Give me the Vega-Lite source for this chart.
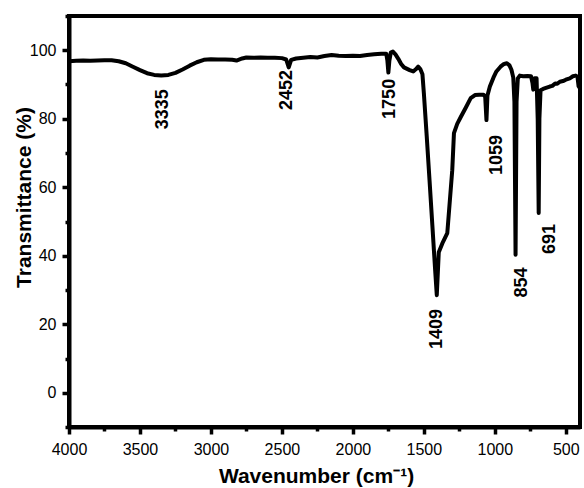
{
  "$schema": "https://vega.github.io/schema/vega-lite/v6.json",
  "width": 511,
  "height": 411,
  "autosize": {"type": "none"},
  "padding": {"left": 69, "top": 16, "right": 4, "bottom": 61},
  "background": "white",
  "config": {
    "font": "Liberation Sans",
    "view": {"stroke": "black", "strokeWidth": 4},
    "axis": {
      "grid": false,
      "domainColor": "black",
      "domainWidth": 4,
      "tickColor": "black",
      "tickWidth": 3.5,
      "labelColor": "black",
      "labelFont": "Liberation Sans",
      "labelFontSize": 16,
      "titleColor": "black",
      "titleFont": "Liberation Sans",
      "titleFontSize": 21,
      "titleFontWeight": "bold"
    }
  },
  "datasets": {
    "spectrum": [
      {"wavenumber": 4000, "transmittance": 96.8},
      {"wavenumber": 3950, "transmittance": 96.9},
      {"wavenumber": 3900, "transmittance": 97.0},
      {"wavenumber": 3850, "transmittance": 96.9},
      {"wavenumber": 3800, "transmittance": 97.0},
      {"wavenumber": 3750, "transmittance": 97.1},
      {"wavenumber": 3700, "transmittance": 97.1},
      {"wavenumber": 3650, "transmittance": 96.8},
      {"wavenumber": 3600, "transmittance": 96.2},
      {"wavenumber": 3550, "transmittance": 95.2},
      {"wavenumber": 3500, "transmittance": 94.2},
      {"wavenumber": 3450, "transmittance": 93.3},
      {"wavenumber": 3400, "transmittance": 92.8},
      {"wavenumber": 3350, "transmittance": 92.6},
      {"wavenumber": 3300, "transmittance": 92.8},
      {"wavenumber": 3250, "transmittance": 93.4},
      {"wavenumber": 3200, "transmittance": 94.4},
      {"wavenumber": 3150, "transmittance": 95.5},
      {"wavenumber": 3100, "transmittance": 96.5},
      {"wavenumber": 3050, "transmittance": 97.2},
      {"wavenumber": 3000, "transmittance": 97.4},
      {"wavenumber": 2950, "transmittance": 97.3},
      {"wavenumber": 2900, "transmittance": 97.3},
      {"wavenumber": 2850, "transmittance": 97.2},
      {"wavenumber": 2820, "transmittance": 97.0},
      {"wavenumber": 2780, "transmittance": 97.6},
      {"wavenumber": 2750, "transmittance": 97.9},
      {"wavenumber": 2700, "transmittance": 97.8},
      {"wavenumber": 2650, "transmittance": 97.9},
      {"wavenumber": 2600, "transmittance": 97.8},
      {"wavenumber": 2550, "transmittance": 97.8},
      {"wavenumber": 2500, "transmittance": 97.7},
      {"wavenumber": 2470, "transmittance": 97.3},
      {"wavenumber": 2452, "transmittance": 95.0},
      {"wavenumber": 2435, "transmittance": 97.2},
      {"wavenumber": 2400, "transmittance": 97.6},
      {"wavenumber": 2350, "transmittance": 97.8},
      {"wavenumber": 2300, "transmittance": 98.0},
      {"wavenumber": 2250, "transmittance": 97.9},
      {"wavenumber": 2200, "transmittance": 98.3},
      {"wavenumber": 2150, "transmittance": 98.6},
      {"wavenumber": 2100, "transmittance": 98.4},
      {"wavenumber": 2050, "transmittance": 98.3},
      {"wavenumber": 2000, "transmittance": 98.4},
      {"wavenumber": 1950, "transmittance": 98.3},
      {"wavenumber": 1900, "transmittance": 98.6},
      {"wavenumber": 1850, "transmittance": 98.8},
      {"wavenumber": 1800, "transmittance": 99.0},
      {"wavenumber": 1765, "transmittance": 99.0},
      {"wavenumber": 1757, "transmittance": 97.0},
      {"wavenumber": 1750, "transmittance": 93.5},
      {"wavenumber": 1743, "transmittance": 97.0},
      {"wavenumber": 1733, "transmittance": 99.3},
      {"wavenumber": 1718, "transmittance": 99.6},
      {"wavenumber": 1700, "transmittance": 98.8},
      {"wavenumber": 1680, "transmittance": 97.5},
      {"wavenumber": 1660, "transmittance": 96.0},
      {"wavenumber": 1640, "transmittance": 95.0},
      {"wavenumber": 1600, "transmittance": 94.2},
      {"wavenumber": 1575, "transmittance": 93.8},
      {"wavenumber": 1555, "transmittance": 94.5},
      {"wavenumber": 1540, "transmittance": 95.2},
      {"wavenumber": 1525, "transmittance": 94.5},
      {"wavenumber": 1510, "transmittance": 93.0},
      {"wavenumber": 1500, "transmittance": 87.5},
      {"wavenumber": 1480, "transmittance": 75.0},
      {"wavenumber": 1460, "transmittance": 62.0},
      {"wavenumber": 1440, "transmittance": 48.8},
      {"wavenumber": 1420, "transmittance": 35.5},
      {"wavenumber": 1409, "transmittance": 28.5},
      {"wavenumber": 1395, "transmittance": 41.0},
      {"wavenumber": 1370, "transmittance": 43.6},
      {"wavenumber": 1335, "transmittance": 46.6},
      {"wavenumber": 1300, "transmittance": 65.0},
      {"wavenumber": 1288, "transmittance": 75.8},
      {"wavenumber": 1265, "transmittance": 78.5},
      {"wavenumber": 1240, "transmittance": 80.5},
      {"wavenumber": 1205, "transmittance": 83.2},
      {"wavenumber": 1170, "transmittance": 86.0},
      {"wavenumber": 1140, "transmittance": 86.9},
      {"wavenumber": 1110, "transmittance": 87.0},
      {"wavenumber": 1080, "transmittance": 87.0},
      {"wavenumber": 1068, "transmittance": 86.5},
      {"wavenumber": 1059, "transmittance": 79.6},
      {"wavenumber": 1052, "transmittance": 86.8},
      {"wavenumber": 1035, "transmittance": 89.4},
      {"wavenumber": 1010, "transmittance": 92.0},
      {"wavenumber": 989, "transmittance": 93.8},
      {"wavenumber": 960, "transmittance": 95.2},
      {"wavenumber": 935, "transmittance": 96.0},
      {"wavenumber": 915, "transmittance": 96.2},
      {"wavenumber": 897, "transmittance": 95.6},
      {"wavenumber": 883, "transmittance": 94.3},
      {"wavenumber": 870, "transmittance": 92.0},
      {"wavenumber": 862, "transmittance": 85.0},
      {"wavenumber": 854, "transmittance": 40.3},
      {"wavenumber": 847, "transmittance": 85.0},
      {"wavenumber": 838, "transmittance": 91.8},
      {"wavenumber": 824, "transmittance": 92.6},
      {"wavenumber": 800, "transmittance": 92.4},
      {"wavenumber": 770, "transmittance": 92.5},
      {"wavenumber": 745, "transmittance": 92.4},
      {"wavenumber": 735, "transmittance": 90.5},
      {"wavenumber": 729, "transmittance": 88.5},
      {"wavenumber": 720, "transmittance": 91.8},
      {"wavenumber": 706, "transmittance": 91.8},
      {"wavenumber": 698, "transmittance": 80.0},
      {"wavenumber": 691, "transmittance": 52.5},
      {"wavenumber": 686, "transmittance": 80.0},
      {"wavenumber": 678, "transmittance": 88.3},
      {"wavenumber": 660, "transmittance": 88.7},
      {"wavenumber": 640, "transmittance": 89.0},
      {"wavenumber": 613, "transmittance": 89.4},
      {"wavenumber": 595, "transmittance": 89.6},
      {"wavenumber": 575, "transmittance": 90.3},
      {"wavenumber": 560, "transmittance": 90.2},
      {"wavenumber": 542, "transmittance": 90.8},
      {"wavenumber": 520, "transmittance": 91.0},
      {"wavenumber": 500, "transmittance": 91.4},
      {"wavenumber": 472, "transmittance": 91.8},
      {"wavenumber": 450, "transmittance": 92.4},
      {"wavenumber": 430, "transmittance": 92.6},
      {"wavenumber": 418, "transmittance": 92.3},
      {"wavenumber": 410, "transmittance": 89.5},
      {"wavenumber": 402, "transmittance": 89.0}
    ],
    "peaks": [
      {"label": "3335", "wn": 3338, "t": 82.8},
      {"label": "2452", "wn": 2465, "t": 88.4},
      {"label": "1750", "wn": 1739, "t": 85.8},
      {"label": "1409", "wn": 1408, "t": 18.6},
      {"label": "1059", "wn": 982, "t": 69.4},
      {"label": "854", "wn": 810, "t": 32.2},
      {"label": "691", "wn": 613, "t": 44.9}
    ]
  },
  "layer": [
    {
      "data": {"name": "spectrum"},
      "mark": {"type": "line", "color": "black", "strokeWidth": 4, "strokeJoin": "round", "strokeCap": "round", "clip": true},
      "encoding": {
        "x": {
          "field": "wavenumber",
          "type": "quantitative",
          "scale": {"domain": [4000, 400], "nice": false, "zero": false},
          "axis": {
            "title": "Wavenumber (cm⁻¹)",
            "values": [4000, 3500, 3000, 2500, 2000, 1500, 1000, 500],
            "format": "d",
            "tickSize": 7,
            "labelPadding": 7,
            "labelFlush": false,
            "labelOverlap": false,
            "titleX": 247,
            "titleY": 55,
            "titleAlign": "center",
            "titleBaseline": "alphabetic"
          }
        },
        "y": {
          "field": "transmittance",
          "type": "quantitative",
          "scale": {"domain": [-10, 110], "nice": false, "zero": false},
          "axis": {
            "title": "Transmittance (%)",
            "values": [0, 20, 40, 60, 80, 100],
            "tickSize": 7,
            "labelPadding": 6,
            "labelFlush": false,
            "labelOverlap": false,
            "titleX": -35,
            "titleY": 181,
            "titleAlign": "center",
            "titleBaseline": "bottom",
            "titleAngle": 270
          }
        }
      }
    },
    {
      "data": {"name": "peaks"},
      "mark": {"type": "text", "angle": 270, "align": "center", "baseline": "middle", "font": "Liberation Sans", "fontSize": 18, "fontWeight": "bold", "color": "black"},
      "encoding": {
        "x": {
          "field": "wn",
          "type": "quantitative",
          "scale": {"domain": [4000, 400], "nice": false, "zero": false},
          "axis": {
            "orient": "bottom",
            "values": [3750, 3250, 2750, 2250, 1750, 1250, 750],
            "labels": false,
            "domain": false,
            "tickSize": 4,
            "title": null
          }
        },
        "y": {
          "field": "t",
          "type": "quantitative",
          "scale": {"domain": [-10, 110], "nice": false, "zero": false},
          "axis": {
            "orient": "left",
            "values": [-10, 10, 30, 50, 70, 90, 110],
            "labels": false,
            "domain": false,
            "tickSize": 4,
            "title": null
          }
        },
        "text": {"field": "label", "type": "nominal"}
      }
    }
  ],
  "resolve": {"axis": {"x": "independent", "y": "independent"}}
}
